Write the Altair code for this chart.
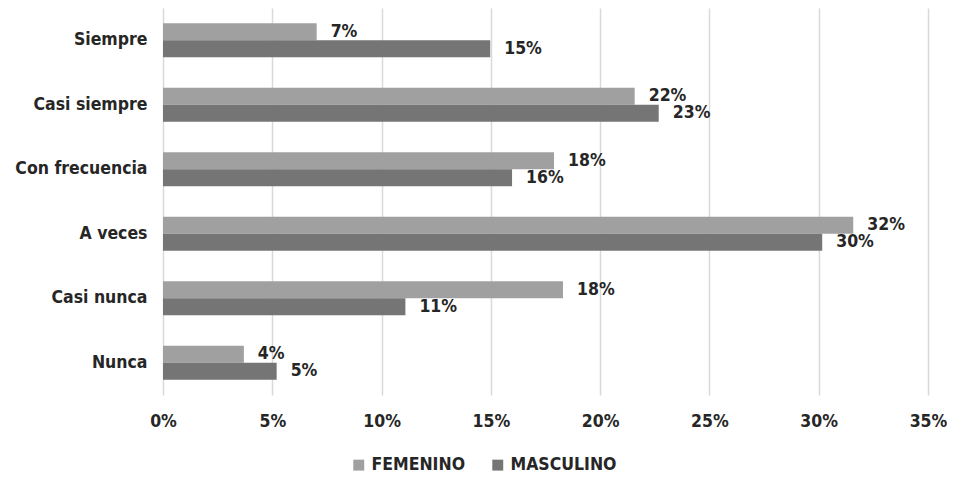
import altair as alt
import pandas as pd

categories = ["Siempre", "Casi siempre", "Con frecuencia", "A veces", "Casi nunca", "Nunca"]
femenino = [0.0703, 0.2158, 0.1789, 0.3158, 0.1830, 0.0370]
masculino = [0.1497, 0.2268, 0.1597, 0.3016, 0.1109, 0.0520]
series = ["FEMENINO", "MASCULINO"]
colors = ["#a0a0a0", "#757575"]
x_ticks = [0, 0.05, 0.10, 0.15, 0.20, 0.25, 0.30, 0.35]

rows = []
for c, f, m in zip(categories, femenino, masculino):
    rows.append({"cat": c, "serie": series[0], "val": f})
    rows.append({"cat": c, "serie": series[1], "val": m})
df = pd.DataFrame(rows)

FONT = "DejaVu Sans Condensed, Liberation Sans Narrow, sans-serif"
TXT = "#262626"

base = alt.Chart(df).encode(
    y=alt.Y("cat:N", sort=categories, title=None,
            scale=alt.Scale(paddingInner=0.47, paddingOuter=0.235),
            axis=alt.Axis(ticks=False, domain=False, labelFontSize=17.5, labelFont=FONT,
                          labelColor=TXT, labelPadding=16, labelFontWeight="bold")),
    yOffset=alt.YOffset("serie:N", sort=series, scale=alt.Scale(paddingInner=0, paddingOuter=0)),
)

bars = base.mark_bar(stroke=None).encode(
    x=alt.X("val:Q", title=None,
            scale=alt.Scale(domain=[0, 0.35], nice=False),
            axis=alt.Axis(values=x_ticks, format=".0%", domain=False, ticks=False, labelFlush=False,
                          gridColor="#d9d9d9", gridWidth=1.5, labelFontSize=17.5, labelFont=FONT,
                          labelFontWeight="bold", labelColor=TXT, labelPadding=17)),
    color=alt.Color("serie:N", sort=series, scale=alt.Scale(domain=series, range=colors),
                    legend=alt.Legend(title=None, orient="none", direction="horizontal",
                                      legendX=187, legendY=448, symbolType="square",
                                      symbolSize=120, symbolStrokeWidth=0, labelFontSize=17.5,
                                      labelFont=FONT, labelFontWeight="bold", labelColor=TXT,
                                      labelLimit=300, columnPadding=23, labelOffset=4)),
)

labels = base.mark_text(align="left", baseline="middle", dx=14, fontSize=17.5, font=FONT,
                        fontWeight="bold", color=TXT).encode(
    x="val:Q",
    text=alt.Text("val:Q", format=".0%"),
)

chart = (bars + labels).properties(
    width=765, height=387,
    autosize=alt.AutoSizeParams(type="none"),
    padding={"left": 155, "top": 0, "right": 19, "bottom": 80},
).configure_view(stroke=None)

chart.save("out.html", embed_options={"renderer": "svg", "actions": False})
